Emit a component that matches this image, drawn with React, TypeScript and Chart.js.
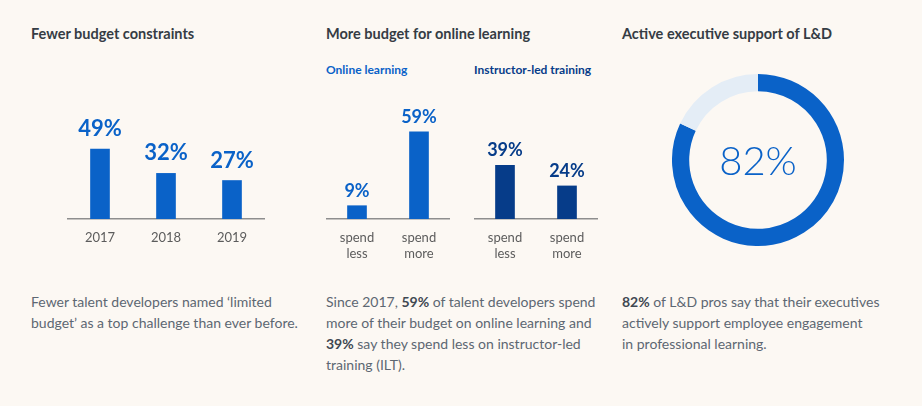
import React, { useEffect, useRef } from "react";
import { Chart, registerables } from "chart.js";

Chart.register(...registerables);

// ---- data ----
const years = ["2017", "2018", "2019"];
const budgetConstraint = [49, 32, 27];
const spendCategories = [["spend", "less"], ["spend", "more"]];
const onlineLearning = [9, 59];
const instructorLed = [39, 24];
const execSupport = [82, 18];

const BLUE = "#0a62c8";
const NAVY = "#063c89";
const LIGHT = "#e4edf6";
const BG = "#fcf8f3";
const FONT = "Lato, 'Noto Sans', sans-serif";

const valueLabels = {
  id: "valueLabels",
  afterDatasetsDraw(chart: any, _args: any, opts: any) {
    const { ctx } = chart;
    const meta = chart.getDatasetMeta(0);
    const data = chart.data.datasets[0].data;
    ctx.save();
    ctx.font = opts.font;
    ctx.fillStyle = opts.color;
    ctx.textAlign = "center";
    ctx.textBaseline = "alphabetic";
    meta.data.forEach((el: any, i: number) => {
      ctx.fillText(data[i] + "%", el.x, el.y - opts.gap);
    });
    ctx.restore();
  },
};

type BarProps = {
  labels: any[];
  data: number[];
  color: string;
  max: number;
  left: number;
  top: number;
  width: number;
  height: number;
  axisH: number;
  labelFont: string;
  gap: number;
  tickPad: number;
};

function BarBlock(p: BarProps) {
  const ref = useRef<HTMLCanvasElement>(null);
  useEffect(() => {
    const chart = new Chart(ref.current as HTMLCanvasElement, {
      type: "bar",
      data: {
        labels: p.labels,
        datasets: [
          {
            data: p.data,
            backgroundColor: p.color,
            barThickness: 19,
            borderWidth: 0,
          },
        ],
      },
      options: {
        responsive: false,
        animation: false,
        layout: { padding: 0 },
        plugins: {
          legend: { display: false },
          tooltip: { enabled: false },
          valueLabels: { font: p.labelFont, color: p.color, gap: p.gap },
        } as any,
        scales: {
          x: {
            grid: { display: false, drawTicks: false },
            border: { display: true, color: "#8e8e8e", width: 1.5 },
            ticks: {
              color: "#5c5c5c",
              font: { family: FONT, size: 13 },
              padding: p.tickPad,
              maxRotation: 0,
              autoSkip: false,
            },
            afterFit: (scale: any) => {
              scale.height = p.axisH;
            },
          },
          y: {
            display: false,
            min: 0,
            max: p.max,
          },
        },
      },
      plugins: [valueLabels as any],
    });
    return () => chart.destroy();
  }, []);
  return (
    <canvas
      ref={ref}
      width={p.width}
      height={p.height}
      style={{ position: "absolute", left: p.left, top: p.top, width: p.width, height: p.height }}
    />
  );
}

function Donut() {
  const ref = useRef<HTMLCanvasElement>(null);
  useEffect(() => {
    const chart = new Chart(ref.current as HTMLCanvasElement, {
      type: "doughnut",
      data: {
        labels: ["Support", "Other"],
        datasets: [
          {
            data: execSupport,
            backgroundColor: [BLUE, LIGHT],
            borderWidth: 0,
          },
        ],
      },
      options: {
        responsive: false,
        animation: false,
        cutout: "80%",
        layout: { padding: 0 },
        plugins: { legend: { display: false }, tooltip: { enabled: false } },
      },
    });
    return () => chart.destroy();
  }, []);
  return (
    <canvas
      ref={ref}
      width={172}
      height={172}
      style={{ position: "absolute", left: 672, top: 74, width: 172, height: 172 }}
    />
  );
}

const titleStyle: React.CSSProperties = {
  position: "absolute",
  top: 25,
  fontFamily: FONT,
  fontWeight: 700,
  fontSize: 14.5,
  lineHeight: "17px",
  color: "#353c44",
  whiteSpace: "nowrap",
};

const subStyle: React.CSSProperties = {
  position: "absolute",
  top: 63,
  fontFamily: FONT,
  fontWeight: 700,
  fontSize: 12,
  lineHeight: "14px",
  whiteSpace: "nowrap",
};

const paraStyle: React.CSSProperties = {
  position: "absolute",
  top: 291,
  fontFamily: FONT,
  fontSize: 14,
  lineHeight: "21px",
  color: "#5d6772",
  whiteSpace: "nowrap",
};

const B = ({ children }: { children: any }) => (
  <b style={{ color: "#3f4852", fontWeight: 700 }}>{children}</b>
);

export default function App() {
  useEffect(() => {
    document.body.style.background = BG;
  }, []);
  return (
    <div
      style={{
        position: "absolute",
        left: 0,
        top: 0,
        width: 922,
        height: 406,
        background: BG,
        overflow: "hidden",
      }}
    >
      <div style={{ ...titleStyle, left: 31 }}>Fewer budget constraints</div>
      <div style={{ ...titleStyle, left: 326 }}>More budget for online learning</div>
      <div style={{ ...titleStyle, left: 622 }}>Active executive support of L&amp;D</div>

      <div style={{ ...subStyle, left: 326, color: BLUE }}>Online learning</div>
      <div style={{ ...subStyle, left: 474, color: NAVY }}>Instructor-led training</div>

      <BarBlock
        labels={years}
        data={budgetConstraint}
        color={BLUE}
        max={87}
        left={67}
        top={95}
        width={198}
        height={160}
        axisH={36}
        labelFont={`700 22px ${FONT}`}
        gap={13}
        tickPad={11}
      />
      <BarBlock
        labels={spendCategories}
        data={onlineLearning}
        color={BLUE}
        max={84}
        left={326}
        top={95}
        width={124}
        height={170}
        axisH={46}
        labelFont={`700 18px ${FONT}`}
        gap={9}
        tickPad={11}
      />
      <BarBlock
        labels={spendCategories}
        data={instructorLed}
        color={NAVY}
        max={90}
        left={474}
        top={95}
        width={124}
        height={170}
        axisH={46}
        labelFont={`700 18px ${FONT}`}
        gap={9}
        tickPad={11}
      />

      <Donut />
      <div
        style={{
          position: "absolute",
          left: 672,
          top: 74,
          width: 172,
          height: 172,
          display: "flex",
          alignItems: "center",
          justifyContent: "center",
          fontFamily: FONT,
          fontWeight: 300,
          fontSize: 40,
          color: BLUE,
        }}
      >
        82%
      </div>

      <div style={{ ...paraStyle, left: 31 }}>
        Fewer talent developers named ‘limited
        <br />
        budget’ as a top challenge than ever before.
      </div>
      <div style={{ ...paraStyle, left: 326 }}>
        Since 2017, <B>59%</B> of talent developers spend
        <br />
        more of their budget on online learning and
        <br />
        <B>39%</B> say they spend less on instructor-led
        <br />
        training (ILT).
      </div>
      <div style={{ ...paraStyle, left: 622 }}>
        <B>82%</B> of L&amp;D pros say that their executives
        <br />
        actively support employee engagement
        <br />
        in professional learning.
      </div>
    </div>
  );
}
